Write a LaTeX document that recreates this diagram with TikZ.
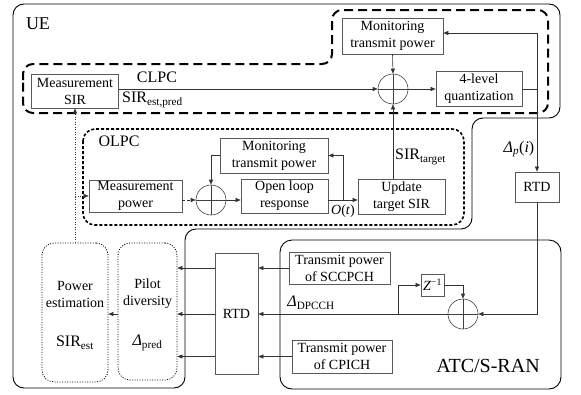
\documentclass[tikz,border=0pt]{standalone}
\usepackage{fontspec}
\setmainfont{Liberation Serif}
\usetikzlibrary{arrows.meta}
\begin{document}
\begin{tikzpicture}[x=1pt,y=-1pt,
  box/.style={draw=black!65, line width=0.7pt, align=center, inner sep=0pt, font=\fontsize{14}{17}\selectfont},
  sumc/.style={circle, draw=black!75, line width=0.6pt, minimum size=30pt, inner sep=0pt,
    path picture={\draw[black!75, line width=0.6pt] (path picture bounding box.north) -- (path picture bounding box.south) (path picture bounding box.west) -- (path picture bounding box.east);}},
  conn/.style={draw=black!80, line width=0.6pt, -{Triangle[length=5pt,width=4pt]}},
  plain/.style={draw=black!80, line width=0.6pt},
  lbl/.style={inner sep=0pt, font=\fontsize{16}{18}\selectfont},
  txt/.style={inner sep=0pt, align=center, font=\fontsize{14}{17}\selectfont},
  dotbox/.style={draw=black, line width=0.8pt, dash pattern=on 1pt off 1.5pt, rounded corners=12pt},
  outline/.style={draw=black, line width=0.9pt},
]
\useasboundingbox (0,0) rectangle (581,394);

% UE outline
\draw[outline, rounded corners=11pt] (13,200) -- (13,4) -- (560,4) -- (560,118) -- (472,118) -- (472,229) -- (185,229) -- (185,388) -- (13,388) -- cycle;
% CLPC region
\draw[line width=2pt, dash pattern=on 9pt off 5pt, rounded corners=10pt] (23,90) -- (23,64) -- (332,64) -- (332,10) -- (548,10) -- (548,113) -- (23,113) -- cycle;
% OLPC region
\draw[line width=1.6pt, dash pattern=on 3pt off 2pt, rounded corners=12pt] (83,129) rectangle (464,225);
% ATC/S-RAN region
\draw[outline, rounded corners=12pt] (280,240) rectangle (561,389);

% boxes
\node[box, minimum width=87pt, minimum height=34pt] (msir) at (75,91) {Measurement\\SIR};
\node[box, minimum width=101pt, minimum height=36pt] (mtop) at (392.5,36) {Monitoring\\transmit power};
\node[sumc] (c1) at (393,89) {};
\node[box, minimum width=86pt, minimum height=35pt] (q4) at (479,89) {4-level\\quantization};
\node[box, minimum width=44pt, minimum height=30pt] (rtd1) at (537,187) {RTD};
\node[box, minimum width=93pt, minimum height=32pt] (mpow) at (135.5,196) {Measurement\\power};
\node[sumc] (c3) at (211,200) {};
\node[box, minimum width=108pt, minimum height=35pt] (olmon) at (274,155.5) {Monitoring\\transmit power};
\node[box, minimum width=87pt, minimum height=34pt] (ol) at (284.5,196) {Open loop\\response};
\node[box, minimum width=87pt, minimum height=35pt] (uts) at (401.5,196.5) {Update\\target SIR};
\node[box, minimum width=101pt, minimum height=32pt] (scc) at (339.5,268) {Transmit power\\of SCCPCH};
\node[box, minimum width=100pt, minimum height=33pt] (cpi) at (342,356.5) {Transmit power\\of CPICH};
\node[box, minimum width=23pt, minimum height=22pt] (zb) at (432.5,285) {\textit{Z}\textsuperscript{−1}};
\node[sumc] (c2) at (463,314) {};
\node[box, minimum width=43pt, minimum height=121pt] (rtdB) at (236.5,314) {RTD};
\node[dotbox, minimum width=59pt, minimum height=137pt] (pil) at (147.5,311.5) {};
\node[dotbox, minimum width=66pt, minimum height=139pt] (pest) at (75,312.5) {};
\node[txt] (pilt) at (147.5,294) {Pilot\\diversity};
\node[lbl] (pild) at (147.5,343) {{\itshape Δ}\textsubscript{pred}};
\node[txt] (pestt) at (75,294) {Power\\estimation};
\node[lbl] (pestd) at (75,343) {SIR\textsubscript{est}};

% labels
\node[lbl, font=\fontsize{18}{20}\selectfont] (ue) at (38,24) {UE};
\node[lbl] (clpc) at (157,77) {CLPC};
\node[lbl, anchor=west] (sep) at (122,100) {SIR\textsubscript{est,pred}};
\node[lbl] (olpc) at (119,141) {OLPC};
\node[lbl, anchor=west] (st) at (395,157) {SIR\textsubscript{target}};
\node[lbl] (dp) at (519,149) {{\itshape Δ}\textsubscript{\itshape p}(\textit{i})};
\node[lbl, font=\fontsize{14}{16}\selectfont] (ot) at (343,211) {\textit{O}(\textit{t})};
\node[lbl] (dd) at (311,303) {{\itshape Δ}\textsubscript{DPCCH}};
\node[lbl, font=\fontsize{20}{22}\selectfont] (atc) at (488,366) {ATC/S-RAN};

% connectors
\draw[conn] (msir.east |- c1.west) -- (c1.west);
\draw[conn] (mtop.south) -- (c1.north);
\draw[conn] (c1.east) -- (q4.west);
\coordinate (jq) at (537,89);
\coordinate (jt) at (537,33);
\draw[plain] (q4.east) -- (jq);
\draw[conn] (jq) -- (jt) -- (mtop.east |- jt);
\draw[conn] (jq) -- (rtd1.north);
\coordinate (jr) at (rtd1.south |- c2.east);
\draw[conn] (rtd1.south) -- (jr) -- (c2.east);
\draw[conn] (c2.west) -- (rtdB.east |- c2.west);
\coordinate (jz) at (398,314);
\draw[conn] (jz) -- (jz |- zb.west) -- (zb.west);
\draw[conn] (zb.east) -- (c2.north |- zb.east) -- (c2.north);
\draw[conn] (scc.west) -- (rtdB.east |- scc.west);
\draw[conn] (cpi.west) -- (rtdB.east |- cpi.west);
\draw[conn] (rtdB.west |- scc.west) -- (pil.east |- scc.west);
\draw[conn] (rtdB.west |- c2.west) -- (pil.east |- c2.west);
\draw[conn] (rtdB.west |- cpi.west) -- (pil.east |- cpi.west);
\draw[conn] (pil.west |- c2.west) -- (pest.east |- c2.west);
\draw[conn, dash pattern=on 1pt off 1.5pt] (pest.north) -- (msir.south);
\coordinate (jd) at (75,196);
\draw[conn, dash pattern=on 1pt off 1.5pt] (jd) -- (mpow.west);
\draw[conn, densely dashed] (mpow.east |- c3.west) -- (c3.west);
\draw[conn] (olmon.west) -- (c3.north |- olmon.west) -- (c3.north);
\draw[conn] (c3.east) -- (ol.west |- c3.east);
\draw[conn] (ol.east |- c3.east) -- (uts.west |- c3.east);
\coordinate (jo) at (343,200);
\draw[conn] (jo) -- (jo |- olmon.east) -- (olmon.east);
\draw[conn] (c1.south |- uts.north) -- (c1.south);
\end{tikzpicture}
\end{document}
